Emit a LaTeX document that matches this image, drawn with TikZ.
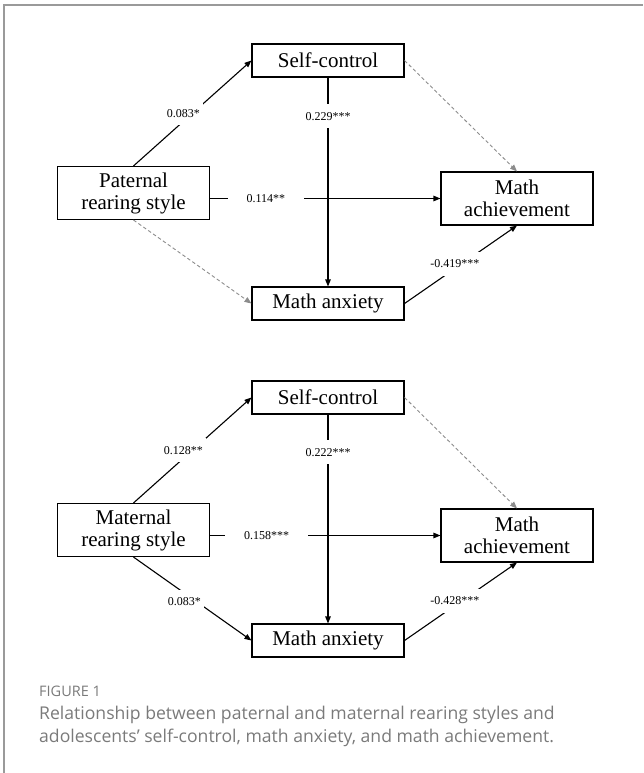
\documentclass[tikz,border=0pt]{standalone}
\usepackage{fontspec}
\setmainfont{Liberation Serif}
\newfontfamily\capfont{Open Sans}
\usetikzlibrary{arrows.meta, positioning}
\definecolor{framegray}{HTML}{9A9A9A}
\definecolor{capgray}{HTML}{7A7A7A}
\definecolor{nsgray}{HTML}{8C8C8C}
\tikzset{%
>={Triangle[width=5.5pt,length=7pt]},
  % Specifications for style of nodes:
            base/.style = {rectangle, draw=black, line width=1.1pt,
                            minimum width=152pt, minimum height=33pt, inner sep=0pt,
                            align=center, font=\fontsize{21}{22}\selectfont},
            tall/.style = {base, minimum height=53pt},
            coef/.style = {fill=white, inner xsep=3pt, inner ysep=8pt,
                            font=\fontsize{12}{12}\selectfont},
            wide/.style = {coef, inner xsep=19pt},
  % Specifications for style of paths:
            sig/.style = {->, draw=black, line width=1.1pt},
            ns/.style = {->, draw=nsgray, line width=0.9pt, dash pattern=on 3.5pt off 2.5pt},
            capt/.style = {anchor=base west, inner sep=0pt, text=capgray, font=\capfont\fontsize{17.6}{23}\selectfont}
}
\begin{document}
\begin{tikzpicture}[x=1pt, y=-1pt]
                \useasboundingbox (0,0) rectangle (643,773);
                \draw[framegray, line width=1.5pt] (4,773) -- (4,5) -- (643,5);

                % paternal model
                \tikzset{node distance = 243pt}
                \node[base] (s1) at (328,60.5) {Self-control};
                \node[base, below of=s1] (a1) {Math anxiety};
                \node[tall] (p1) at (133.5,193) {Paternal\\rearing style};
                \node[tall] (m1) at (517,198.5) {Math\\achievement};
                \draw[sig] (p1.north) -- (s1.west) node [coef, pos=0.5, xshift=-9pt] {0.083*};
                \draw[sig] (s1) -- (a1) node [coef, pos=0.186] {0.229***};
                \draw[sig] (p1.east |- m1.west) -- (m1.west) node [wide, pos=0.242] {0.114**};
                \draw[sig] (a1.east) -- (m1.south) node [coef, pos=0.51, xshift=-7pt] {-0.419***};
                \draw[ns] (s1.east) -- (m1.north);
                \draw[ns] (p1.south) -- (a1.west);

                % maternal model
                \node[base] (s2) at (328,397.5) {Self-control};
                \node[base, below of=s2] (a2) {Math anxiety};
                \node[tall] (p2) at (133.5,530) {Maternal\\rearing style};
                \node[tall] (m2) at (517,535.5) {Math\\achievement};
                \draw[sig] (p2.north) -- (s2.west) node [coef, pos=0.5, xshift=-9pt] {0.128**};
                \draw[sig] (s2) -- (a2) node [coef, pos=0.18] {0.222***};
                \draw[sig] (p2.east |- m2.west) -- (m2.west) node [wide, pos=0.245] {0.158***};
                \draw[sig] (p2.south) -- (a2.west) node [coef, pos=0.5, xshift=-8pt, yshift=-3pt] {0.083*};
                \draw[sig] (a2.east) -- (m2.south) node [coef, pos=0.51, xshift=-7pt] {-0.428***};
                \draw[ns] (s2.east) -- (m2.north);

                % caption
                \node[capt, font=\capfont\fontsize{14.5}{16}\selectfont] (fig) at (39,696) {FIGURE 1};
                \node[capt] (cap1) at (39,719) {Relationship between paternal and maternal rearing styles and};
                \node[capt] (cap2) at (39,742) {adolescents’ self-control, math anxiety, and math achievement.};

            \end{tikzpicture}
\end{document}
